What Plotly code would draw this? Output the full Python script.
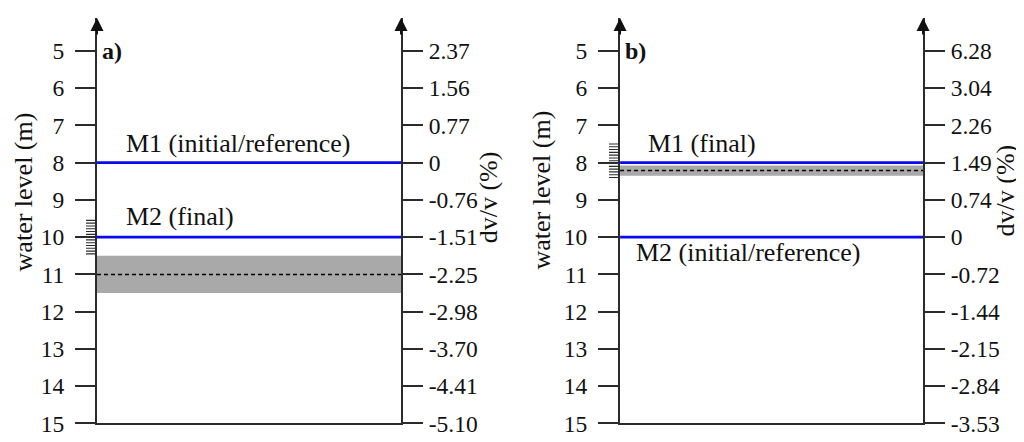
import plotly.graph_objects as go

# ---- data ----
water_levels = [5, 6, 7, 8, 9, 10, 11, 12, 13, 14, 15]
dvv_a = ["2.37", "1.56", "0.77", "0", "-0.76", "-1.51", "-2.25", "-2.98", "-3.70", "-4.41", "-5.10"]
dvv_b = ["6.28", "3.04", "2.26", "1.49", "0.74", "0", "-0.72", "-1.44", "-2.15", "-2.84", "-3.53"]

# panel a
levels_a = [8.0, 10.0]
labels_a = ["M1 (initial/reference)", "M2 (final)"]
band_a = [10.5, 11.5]
estimate_a = 11.0
hash_a = [9.55, 9.625, 9.70, 9.775, 9.85, 9.925, 10.0, 10.075, 10.15, 10.225, 10.30, 10.375, 10.45]

# panel b
levels_b = [8.0, 10.0]
labels_b = ["M1 (final)", "M2 (initial/reference)"]
band_b = [8.08, 8.35]
estimate_b = 8.21
hash_b = [7.50, 7.575, 7.65, 7.725, 7.80, 7.875, 7.95, 8.025, 8.10, 8.175, 8.25, 8.325, 8.40]

FONT = "Liberation Serif"
AX = "#2b2b2b"
BLUE = "#0a0af0"
GRAY = "#a9a9a9"
YR = [15, 4.115]
YDOM = [0.0317, 0.977]

fig = go.Figure()

def add_panel(xa, ya, ya_right, xa_hash, ya_hash, levels, band, est, hashes):
    # gray band
    fig.add_trace(go.Scatter(x=[0, 1, 1, 0], y=[band[0], band[0], band[1], band[1]],
                             fill="toself", fillcolor=GRAY, line=dict(width=0),
                             mode="lines", xaxis=xa, yaxis=ya, showlegend=False, hoverinfo="skip"))
    # dashed estimate
    fig.add_trace(go.Scatter(x=[0, 1], y=[est, est], mode="lines",
                             line=dict(color="black", width=1.5, dash="4px,3px"),
                             xaxis=xa, yaxis=ya, showlegend=False, hoverinfo="skip"))
    # blue measurement lines
    for lv in levels:
        fig.add_trace(go.Scatter(x=[0, 1], y=[lv, lv], mode="lines",
                                 line=dict(color=BLUE, width=2.6),
                                 xaxis=xa, yaxis=ya, showlegend=False, hoverinfo="skip"))
    # hash marks (on a narrow helper axis just left of the y axis)
    hx, hy = [], []
    for h in hashes:
        hx += [0, 1, None]
        hy += [h, h, None]
    fig.add_trace(go.Scatter(x=hx, y=hy, mode="lines", line=dict(color=AX, width=1.1),
                             xaxis=xa_hash, yaxis=ya_hash, showlegend=False, hoverinfo="skip"))
    # invisible trace so that the right-hand axis is drawn
    fig.add_trace(go.Scatter(x=[0.5], y=[levels[0]], mode="markers", marker=dict(opacity=0),
                             xaxis=xa, yaxis=ya_right, showlegend=False, hoverinfo="skip"))

add_panel("x", "y", "y2", "x3", "y5", levels_a, band_a, estimate_a, hash_a)
add_panel("x2", "y3", "y4", "x4", "y6", levels_b, band_b, estimate_b, hash_b)

tickfont = dict(family=FONT, size=23.5, color="#111")

def xaxis(domain, anchor):
    return dict(domain=domain, range=[0, 1], anchor=anchor, showline=True, linecolor=AX, linewidth=2,
                showticklabels=False, ticks="", showgrid=False, zeroline=False, fixedrange=True)

def hidden_x(domain, anchor):
    return dict(domain=domain, range=[0, 1], anchor=anchor, visible=False, fixedrange=True)

def hidden_y(anchor):
    return dict(domain=YDOM, range=YR, anchor=anchor, visible=False, fixedrange=True)

def yleft(anchor):
    return dict(domain=YDOM, range=YR, anchor=anchor, side="left", showline=True,
                linecolor=AX, linewidth=2, tickvals=water_levels, ticks="outside", ticklen=20,
                tickwidth=2, tickcolor=AX, tickfont=tickfont, ticklabelstandoff=6,
                showgrid=False, zeroline=False, fixedrange=True)

def yright(anchor, overlay, texts):
    return dict(domain=YDOM, range=YR, anchor=anchor, overlaying=overlay, side="right",
                showline=True, linecolor=AX, linewidth=2, tickvals=water_levels, ticktext=texts,
                tickmode="array",
                ticks="outside", ticklen=20, tickwidth=2, tickcolor=AX, tickfont=tickfont,
                ticklabelstandoff=1, showgrid=False, zeroline=False, fixedrange=True)

fig.update_layout(
    width=1024, height=442,
    margin=dict(l=0, r=0, t=0, b=0),
    paper_bgcolor="white", plot_bgcolor="rgba(0,0,0,0)",
    xaxis=xaxis([0.0869, 0.3838], "y"),
    yaxis=yleft("x"),
    yaxis2=yright("x", "y", dvv_a),
    xaxis2=xaxis([0.5977, 0.8936], "y3"),
    yaxis3=yleft("x2"),
    yaxis4=yright("x2", "y3", dvv_b),
    xaxis3=hidden_x([78 / 1024, 88 / 1024], "y5"),
    yaxis5=hidden_y("x3"),
    xaxis4=hidden_x([601 / 1024, 611 / 1024], "y6"),
    yaxis6=hidden_y("x4"),
)

ann = []
# arrows at top of axes
for xr, yr, xv in [("x", "y", 0), ("x", "y", 1), ("x2", "y3", 0), ("x2", "y3", 1)]:
    ann.append(dict(x=xv, y=4.12, xref=xr, yref=yr, ax=xv, ay=4.6, axref=xr, ayref=yr,
                    text="", showarrow=True, arrowhead=2, arrowsize=1.3, arrowwidth=2,
                    arrowcolor="#111"))
lab = dict(family=FONT, size=26, color="#111")
ann += [
    dict(x=0.09, y=levels_a[0] - 0.5, xref="x", yref="y", text=labels_a[0], showarrow=False,
         xanchor="left", yanchor="middle", font=lab),
    dict(x=0.09, y=levels_a[1] - 0.55, xref="x", yref="y", text=labels_a[1], showarrow=False,
         xanchor="left", yanchor="middle", font=lab),
    dict(x=0.085, y=levels_b[0] - 0.5, xref="x2", yref="y3", text=labels_b[0], showarrow=False,
         xanchor="left", yanchor="middle", font=lab),
    dict(x=0.045, y=levels_b[1] + 0.42, xref="x2", yref="y3", text=labels_b[1], showarrow=False,
         xanchor="left", yanchor="middle", font=lab),
    dict(x=0.01, y=5.0, xref="x", yref="y", text="<b>a)</b>", showarrow=False,
         xanchor="left", yanchor="middle", font=dict(family=FONT, size=24, color="#111")),
    dict(x=0.01, y=5.0, xref="x2", yref="y3", text="<b>b)</b>", showarrow=False,
         xanchor="left", yanchor="middle", font=dict(family=FONT, size=24, color="#111")),
]
title = dict(family=FONT, size=26, color="#111")
for xp, txt, ypos in [(15, "water level (m)", 190), (480, "dv/v (%)", 195),
                      (533, "water level (m)", 188), (997, "dv/v (%)", 188)]:
    ann.append(dict(x=xp / 1024, y=1 - ypos / 442, xref="paper", yref="paper", text=txt,
                    textangle=-90, showarrow=False, xanchor="center", yanchor="middle", font=title))
fig.update_layout(annotations=ann)

fig.write_html("out.html")
